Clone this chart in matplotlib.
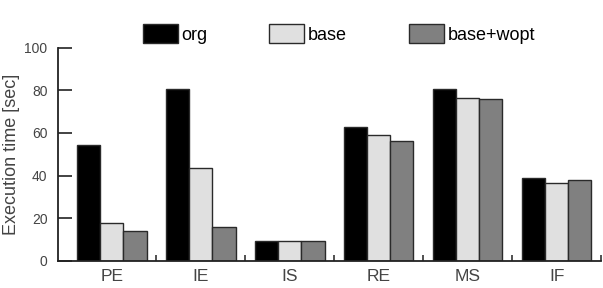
import numpy as np
import matplotlib.pyplot as plt

plt.rcParams['font.family'] = ['Liberation Sans', 'DejaVu Sans']

# data
apps = ['PE', 'IE', 'IS', 'RE', 'MS', 'IF']
org = [54.2, 80.6, 9.3, 62.6, 80.5, 38.9]
base = [17.8, 43.6, 9.3, 59.2, 76.2, 36.6]
base_wopt = [14.2, 16.0, 9.2, 56.0, 75.8, 37.7]

series = [('org', org, 'black'),
          ('base', base, '#e0e0e0'),
          ('base+wopt', base_wopt, '#808080')]

fig = plt.figure(figsize=(6.03, 2.88), dpi=100)
ax = fig.add_axes([0.097, 0.094, 0.9, 0.741])

x = np.arange(len(apps))
w = 0.26
for i, (name, vals, col) in enumerate(series):
    ax.bar(x + (i - 1) * w, vals, w, color=col, edgecolor='#2a2a2a',
           linewidth=1.0, label=name)

ax.set_xlim(-0.6, 5.5)
ax.set_ylim(0, 100)
ax.set_yticks(range(0, 101, 20))
ax.tick_params(axis='y', direction='in', length=10, width=1.2,
               labelsize=10, colors='#222222', labelcolor='#444444', pad=8)
ax.set_xticks(x)
ax.set_xticklabels(apps)
ax.tick_params(axis='x', length=0, labelsize=12.5, labelcolor='#444444', pad=6)
ax.set_xticks(x + 0.5, minor=True)
ax.tick_params(axis='x', which='minor', direction='in', length=4, width=1.2,
               colors='#333333')

for s in ['top', 'right']:
    ax.spines[s].set_visible(False)
for s in ['left', 'bottom']:
    ax.spines[s].set_linewidth(1.3)
    ax.spines[s].set_color('#222222')

ax.set_ylabel('Execution time [sec]', fontsize=13, color='#444444', labelpad=3)

fig.legend(*ax.get_legend_handles_labels(), loc='center',
           bbox_to_anchor=(0.562, 0.882), ncol=3, frameon=False, fontsize=13,
           handlelength=1.94, handleheight=1.22, columnspacing=3.4,
           handletextpad=0.22)

fig.savefig('out.png', dpi=100)
